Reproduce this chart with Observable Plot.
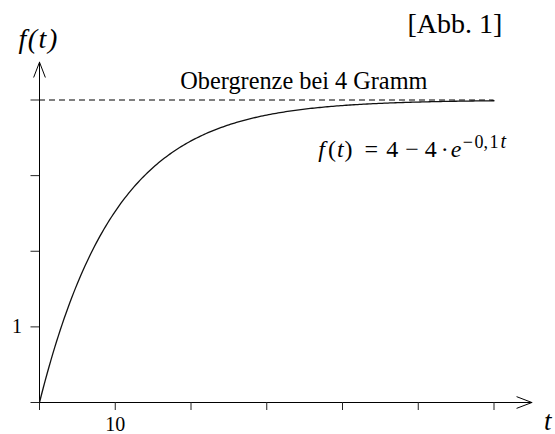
<!DOCTYPE html>
<html>
<head>
<meta charset="utf-8">
<script src="https://cdn.jsdelivr.net/npm/d3@7"></script>
<script src="https://cdn.jsdelivr.net/npm/@observablehq/plot@0.6"></script>
<style>
  html, body { margin: 0; padding: 0; background: #fff; }
</style>
</head>
<body>
<div id="chart"></div>
<script>
// Saturating growth f(t) = 4 − 4·e^(−0,1t), bounded above by 4 grams
const limit = 4;          // upper bound in grams
const rate = 0.1;         // constant in the exponent
const tStart = 0;
const tEnd = 60;
const tStep = 0.25;

// axis ticks and the labels shown on them
const xTicks = [0, 10, 20, 30, 40, 50, 60];
const yTicks = [0, 1, 2, 3, 4];
const xTickLabels = {10: "10"};
const yTickLabels = {1: "1"};

// how far the axis arrows reach, in data units
const xAxisEnd = 65;
const yAxisEnd = 4.5;

const tValues = d3.range(tStart, tEnd + tStep / 2, tStep);
const curve = tValues.map(t => ({t, f: limit - limit * Math.exp(-rate * t)}));

const serif = "'Liberation Serif', 'Times New Roman', serif";
const formulaText = "f(t) = 4 − 4 · e−0,1t";

const chart = Plot.plot({
  width: 555,
  height: 434,
  marginLeft: 39,
  marginRight: 61.5,
  marginTop: 99.5,
  marginBottom: 32,
  x: {domain: [tStart, tEnd], label: null},
  y: {domain: [0, limit], label: null},
  style: {fontFamily: serif, fontSize: "20px", background: "#fff", color: "#000"},
  marks: [
    // axes with arrow heads
    Plot.arrow([0], {x1: 0, y1: 0, x2: xAxisEnd, y2: 0, stroke: "#000", strokeWidth: 1, headLength: 24, headAngle: 42}),
    Plot.arrow([0], {x1: 0, y1: 0, x2: 0, y2: yAxisEnd, stroke: "#000", strokeWidth: 1, headLength: 24, headAngle: 42}),
    Plot.axisX(xTicks, {tickSize: 8, tickPadding: 6, stroke: "#222", label: null, tickFormat: d => xTickLabels[d] ?? "", fontSize: 20}),
    Plot.axisY(yTicks, {tickSize: 8.5, tickPadding: 9, stroke: "#222", label: null, tickFormat: d => yTickLabels[d] ?? "", fontSize: 20}),
    // upper bound
    Plot.ruleY([limit], {x1: tStart, x2: tEnd, stroke: "#000", strokeWidth: 1, strokeDasharray: "6,4"}),
    // the growth curve
    Plot.line(curve, {x: "t", y: "f", stroke: "#111", strokeWidth: 1.3}),
    // annotations
    Plot.text(["Obergrenze bei 4 Gramm"], {x: 34.9, y: 4.15, text: d => d, lineAnchor: "bottom", textAnchor: "middle", fontSize: 24.3}),
    Plot.text([formulaText], {x: 36.8, y: 3.246, text: d => d, lineAnchor: "bottom", textAnchor: "start", fontSize: 24, fontFamily: serif}),
    Plot.text(["[Abb. 1]"], {x: 61.1, y: 4.88, text: d => d, lineAnchor: "bottom", textAnchor: "end", fontSize: 28}),
    Plot.text(["f(t)"], {x: -2.77, y: 4.69, text: d => d, lineAnchor: "bottom", textAnchor: "start", fontSize: 28, fontStyle: "italic"}),
    Plot.text(["t"], {x: 66.6, y: -0.36, text: d => d, lineAnchor: "bottom", textAnchor: "start", fontSize: 27, fontStyle: "italic"})
  ]
});

// widen the italic axis name a little, like math spacing
d3.select(chart).selectAll("text")
  .filter(function () { return this.textContent === "f(t)"; })
  .attr("letter-spacing", 1.5);

// typeset the formula: italic variables, math spacing and a raised exponent
const formula = d3.select(chart).selectAll("text")
  .filter(function () { return this.textContent === formulaText; });
formula.text(null).attr("font-family", serif);
const parts = [
  {s: "f", italic: true},
  {s: "(", dx: 3},
  {s: "t", italic: true, dx: 1},
  {s: ")", dx: 1},
  {s: "=", dx: 12},
  {s: "4", dx: 8},
  {s: "−", dx: 7},
  {s: "4", dx: 6},
  {s: "·", dx: 4},
  {s: "e", italic: true, dx: 2},
  {s: "−", sup: true, dx: 1.5, dy: -9},
  {s: "0", sup: true, dx: 1.5},
  {s: ",", sup: true},
  {s: "1", sup: true, dx: 1.5},
  {s: "t", sup: true, italic: true, dx: 2, size: 20}
];
for (const p of parts) {
  const ts = formula.append("tspan").text(p.s).attr("font-family", serif);
  if (p.italic) ts.attr("font-style", "italic");
  if (p.dx) ts.attr("dx", p.dx);
  if (p.dy) ts.attr("dy", p.dy);
  if (p.sup) ts.attr("font-size", p.size ?? 18);
}

document.getElementById("chart").appendChild(chart);
</script>
</body>
</html>
